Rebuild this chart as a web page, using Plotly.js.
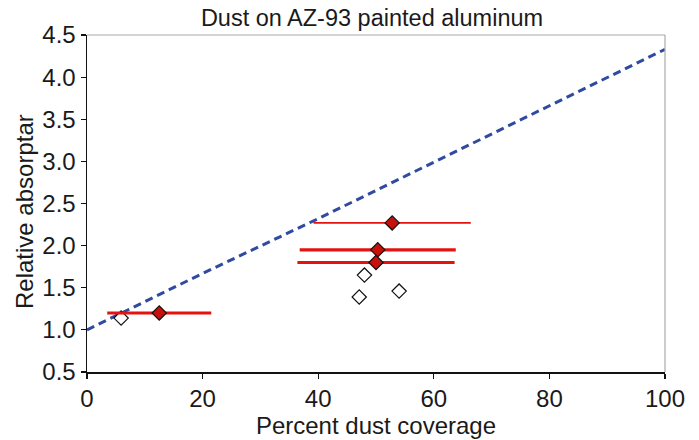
<!DOCTYPE html>
<html>
<head>
<meta charset="utf-8">
<script src="https://cdn.plot.ly/plotly-3.0.1.min.js"></script>
<style>html,body{margin:0;padding:0;background:#fff;}#chart{width:699px;height:440px;}</style>
</head>
<body>
<div id="chart"></div>
<script>
// Model line (dashed)
const modelX = [0, 20, 40, 60, 80, 100];
const modelY = [1.0, 1.67, 2.32, 2.99, 3.66, 4.33];

// Measured points with coverage range (thick bars)
const thickX = [12.5, 50.3, 50.0];
const thickY = [1.20, 1.95, 1.80];
const thickErr = [9.0, 13.5, 13.6];

// Measured point with thin bar
const thinX = [52.8];
const thinY = [2.27];
const thinErr = [13.6];

// Open diamonds
const openX = [5.9, 48.0, 47.1, 54.0];
const openY = [1.14, 1.65, 1.39, 1.46];

const xTicks = [0, 20, 40, 60, 80, 100];
const yTicks = [0.5, 1.0, 1.5, 2.0, 2.5, 3.0, 3.5, 4.0, 4.5];

const fontFam = 'Liberation Sans, Arial, sans-serif';
const red = '#e3140f';

const traces = [
  {x: modelX, y: modelY, mode: 'lines', type: 'scatter',
   line: {color: '#2f4aa0', width: 3, dash: '8px,5px'}, hoverinfo: 'skip'},
  {x: openX, y: openY, mode: 'markers', type: 'scatter',
   marker: {symbol: 'diamond', size: 11, color: '#ffffff', line: {color: '#111', width: 1.2}}},
  {x: thinX, y: thinY, mode: 'markers', type: 'scatter',
   error_x: {type: 'data', array: thinErr, visible: true, color: red, thickness: 1.8, width: 0},
   marker: {symbol: 'diamond', size: 11, color: '#c8100c', line: {color: '#111', width: 1.2}}},
  {x: thickX, y: thickY, mode: 'markers', type: 'scatter',
   error_x: {type: 'data', array: thickErr, visible: true, color: red, thickness: 3.2, width: 0},
   marker: {symbol: 'diamond', size: 11, color: '#c8100c', line: {color: '#111', width: 1.2}}}
];

const layout = {
  width: 699, height: 440,
  margin: {l: 87, r: 34, t: 35, b: 68},
  paper_bgcolor: '#ffffff', plot_bgcolor: '#ffffff',
  showlegend: false,
  font: {family: fontFam, color: '#1a1a1a'},
  title: {text: 'Dust on AZ-93 painted aluminum', font: {size: 23.5, family: fontFam, color: '#1a1a1a'},
          x: 372/699, xanchor: 'center', y: 1 - 18/440, yanchor: 'middle'},
  xaxis: {range: [0, 100], tickvals: xTicks, ticktext: xTicks.map(String),
          showgrid: false, zeroline: false, showline: true, linecolor: '#111', linewidth: 1.5,
          ticks: 'outside', ticklen: 5, tickwidth: 1.2, tickcolor: '#111',
          tickfont: {size: 24, family: fontFam},
          title: {text: 'Percent dust coverage', font: {size: 24, family: fontFam}, standoff: 1}},
  yaxis: {range: [0.5, 4.5], tickvals: yTicks, ticktext: yTicks.map(v => v.toFixed(1)),
          showgrid: false, zeroline: false, showline: true, linecolor: '#111', linewidth: 1.5,
          ticks: 'outside', ticklen: 5, tickwidth: 1.2, tickcolor: '#111',
          tickfont: {size: 24, family: fontFam}},
  annotations: [{text: 'Relative absorptar', textangle: -90, showarrow: false,
                 xref: 'paper', yref: 'paper', x: (24-87)/578, y: (372-212)/337,
                 xanchor: 'center', yanchor: 'middle', font: {size: 24, family: fontFam, color: '#1a1a1a'}}],
  shapes: [
    {type: 'line', xref: 'paper', yref: 'paper', x0: 0, x1: 1, y0: 1, y1: 1, line: {color: '#aaaaaa', width: 1.2}},
    {type: 'line', xref: 'paper', yref: 'paper', x0: 1, x1: 1, y0: 0, y1: 1, line: {color: '#aaaaaa', width: 1.2}}
  ]
};

Plotly.newPlot('chart', traces, layout, {displayModeBar: false, staticPlot: true});
</script>
</body>
</html>
